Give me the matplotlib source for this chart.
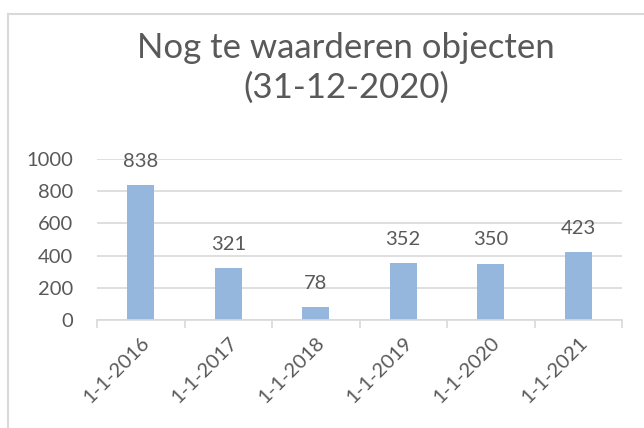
import numpy as np
import matplotlib.pyplot as plt
from matplotlib.lines import Line2D

# Chart data
categories = ['1-1-2016', '1-1-2017', '1-1-2018', '1-1-2019', '1-1-2020', '1-1-2021']
values = [838, 321, 78, 352, 350, 423]
title = 'Nog te waarderen objecten\n(31-12-2020)'

plt.rcParams['font.family'] = ['Lato', 'DejaVu Sans']
text_color = '#595959'
grid_color = '#D9D9D9'
bar_color = '#95B7DE'

fig = plt.figure(figsize=(6.44, 4.28), dpi=100)
ax = fig.add_axes([97 / 644, 108 / 428, 525 / 644, 161 / 428])

x = np.arange(len(categories))
bars = ax.bar(x, values, width=0.31, color=bar_color, zorder=3)

# data labels above the bars
for xi, v in zip(x, values):
    ax.annotate(str(v), (xi, v), xytext=(0, 11), textcoords='offset points',
                ha='center', va='bottom', fontsize=14.5, color=text_color)

ax.set_xlim(-0.5, len(categories) - 0.5)
ax.set_ylim(0, 1000)
ax.set_yticks(range(0, 1001, 200))
ax.yaxis.grid(True, color=grid_color, linewidth=1.2, zorder=0)

# category labels at centers, tick marks between categories
ax.set_xticks(x)
ax.set_xticklabels(categories, rotation=45, ha='right', rotation_mode='anchor')
ax.set_xticks(np.arange(-0.5, len(categories)), minor=True)
ax.tick_params(axis='x', which='major', length=0, pad=10, labelsize=14.5, labelcolor=text_color)
ax.tick_params(axis='x', which='minor', length=6, width=1.2, color=grid_color)
ax.tick_params(axis='y', length=0, pad=17, labelsize=14.5, labelcolor=text_color)

for s in ['top', 'right', 'left']:
    ax.spines[s].set_visible(False)
ax.spines['bottom'].set_color(grid_color)
ax.spines['bottom'].set_linewidth(1.2)
ax.spines['bottom'].set_zorder(4)

fig.text(346 / 644, 1 - 68 / 428, title, ha='center', va='center', fontsize=25,
         color=text_color, linespacing=1.3)

# chart frame (partly cropped)
bx, by = 8 / 644, 1 - 14 / 428
fig.add_artist(Line2D([bx, 1], [by, by], color=grid_color, linewidth=1.5))
fig.add_artist(Line2D([bx, bx], [0, by], color=grid_color, linewidth=1.5))

fig.savefig('out.png', dpi=100)
